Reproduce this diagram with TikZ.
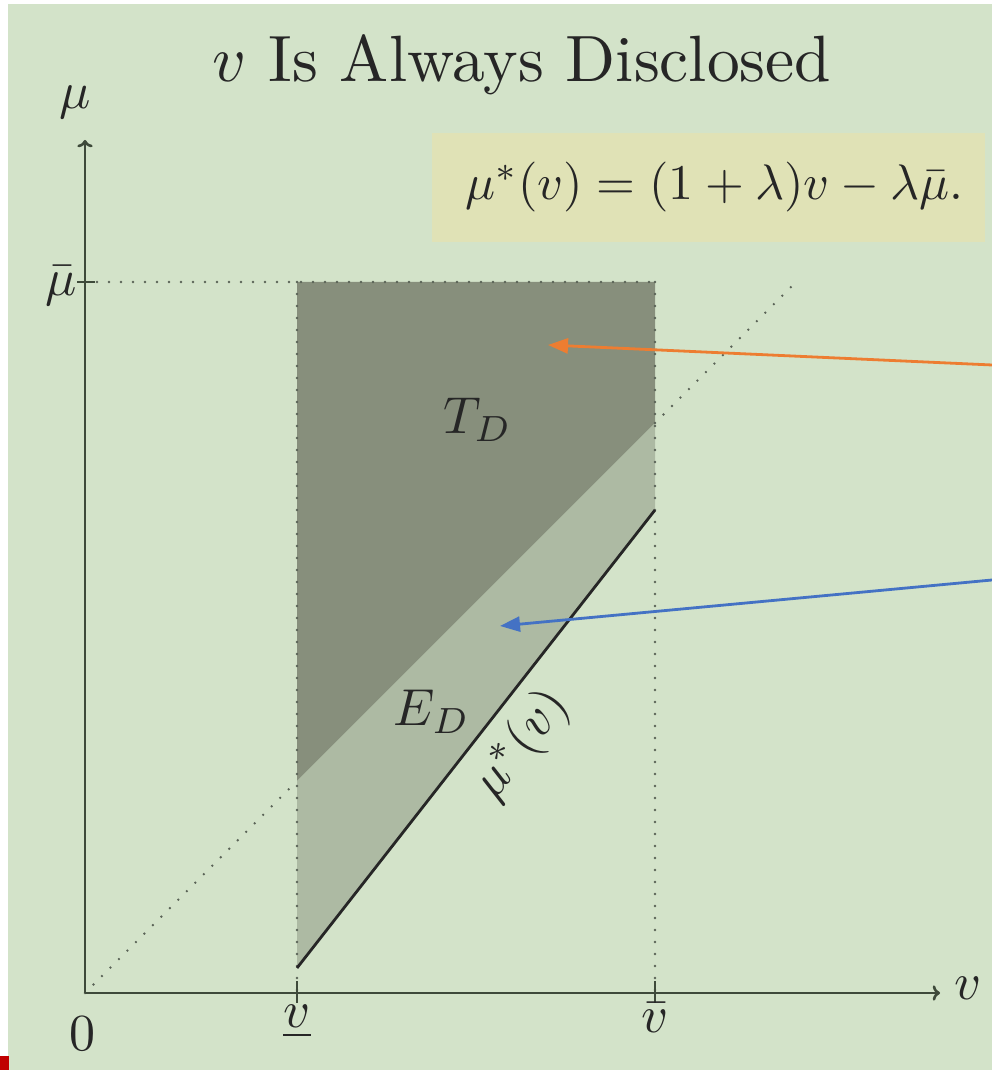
\documentclass[tikz,border=0pt]{standalone}
\usepackage{amsmath,amssymb}
\usepackage{tikz}
\usetikzlibrary{positioning,arrows.meta,calc}
\usepackage{xcolor}
\definecolor{bgreen}{HTML}{D3E3C9}
\definecolor{boxyel}{HTML}{E0E2B6}
\definecolor{tdark}{HTML}{878F7C}
\definecolor{elight}{HTML}{ADBAA3}
\definecolor{axisgray}{HTML}{3E4A3A}
\definecolor{dotgray}{HTML}{5A6357}
\definecolor{arrorange}{HTML}{ED7D31}
\definecolor{arrblue}{HTML}{4472C4}
\definecolor{redmark}{HTML}{C00000}
\tikzset{
  >=To,
  big/.style={scale=5.2, text=black!85},
  axis/.style={line width=2.6pt, draw=axisgray},
  guide/.style={draw=dotgray, line width=2.6pt, line cap=round, dash pattern=on 0pt off 12pt},
  pointer/.style={line width=2.8pt, -{Triangle[length=20pt,width=15pt]}},
}

\begin{document}
\begin{tikzpicture}[x=1pt,y=1pt]
\fill[white] (0,0) rectangle (992,1070);
\fill[bgreen] (8,0) rectangle (992,1066);
\fill[redmark] (0,0) rectangle (9,14);
\useasboundingbox (0,0) rectangle (992,1070);

\coordinate (O) at (85,77);
\coordinate (xend) at (940,77);
\coordinate (yend) at (85,930);
\coordinate (lo) at (297,77);
\coordinate (hi) at (655,77);
\coordinate (mubar) at (85,788);
\coordinate (A) at (297,788);
\coordinate (B) at (655,788);
\coordinate (C) at (655,647);
\coordinate (D) at (297,289);
\coordinate (E) at (655,560);
\coordinate (F) at (297,102);
\coordinate (diag) at (793,785);

% regions
\fill[tdark] (A) -- (B) -- (C) -- (D) -- cycle;
\fill[elight] (D) -- (C) -- (E) -- (F) -- cycle;

% dotted guides
\draw[guide] (mubar) -- (B);
\draw[guide] (A) -- (lo);
\draw[guide] (B) -- (hi);
\draw[guide] (O) -- (D);
\draw[guide] (C) -- (diag);

% axes and ticks
\draw[axis,->] (O) -- (xend);
\draw[axis,->] (O) -- (yend);
\draw[axis] ($(mubar)+(-8,0)$) -- ($(mubar)+(10,0)$);
\draw[axis] ($(lo)+(0,-10)$) -- ($(lo)+(0,12)$);
\draw[axis] ($(hi)+(0,-10)$) -- ($(hi)+(0,12)$);

% mu* line
\draw[line width=2.8pt, black!85] (F) -- (E);

% labels
\node[scale=6.55, text=black!85] (title) at (522,1005) {$v$ Is Always Disclosed};
\node[big] (mulab) at (75,968) {$\mu$};
\node[big] (vlab) at (968,82) {$v$};
\node[big] (zero) at (82,36) {$0$};
\node[big] (mubarlab) at (61,784) {$\bar{\mu}$};
\node[big] (vlow) at (297,48) {$\underline{v}$};
\node[big] (vhigh) at (655,52) {$\bar{v}$};
\node[big] (TD) at (478,650) {$T_D$};
\node[big] (ED) at (432,358) {$E_D$};
\node[big, rotate=52] (mustar) at (522,325) {$\mu^*(v)$};
\node[fill=boxyel, minimum width=553pt, minimum height=109pt, inner sep=0pt] (eqbox) at (708.5,882.5) {};
\node[big, scale=0.96] (eq) at ([xshift=6pt]eqbox.center) {$\mu^*(v) = (1+\lambda)v - \lambda\bar{\mu}.$};

% pointers
\coordinate (oin) at (992,705);
\coordinate (tdtip) at (548,725);
\coordinate (bin) at (992,490);
\coordinate (edtip) at (500,444);
\draw[pointer, arrorange] (oin) -- (tdtip);
\draw[pointer, arrblue] (bin) -- (edtip);
\end{tikzpicture}
\end{document}
